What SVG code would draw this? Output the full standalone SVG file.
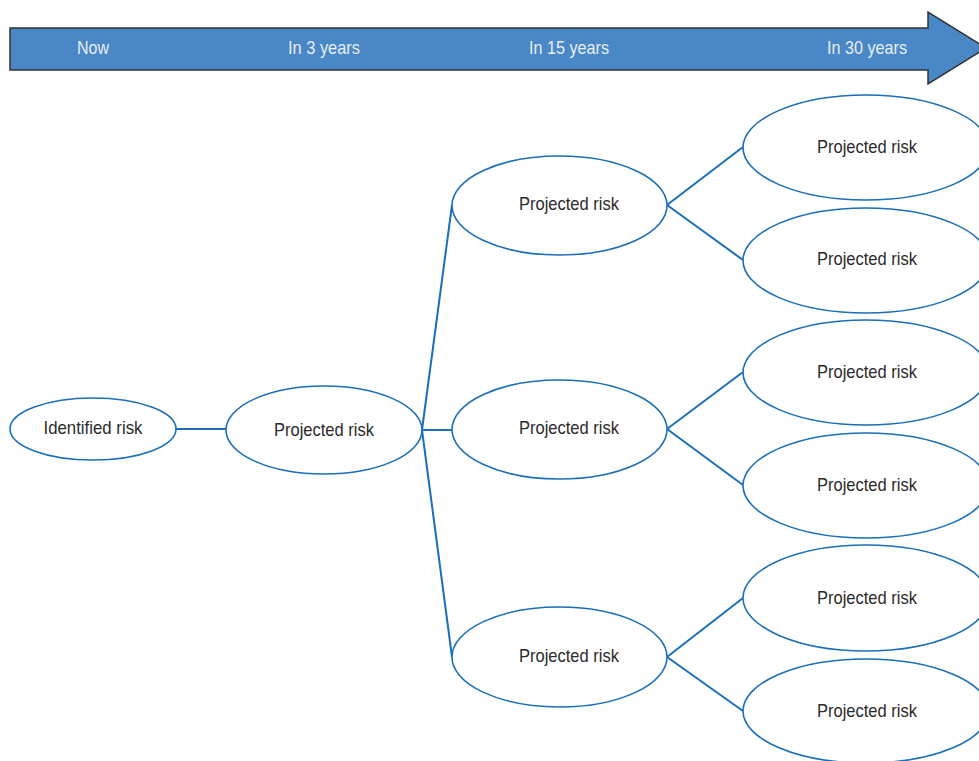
<svg xmlns="http://www.w3.org/2000/svg" width="979" height="761" viewBox="0 0 979 761">
<style>
.t{font-family:"Liberation Sans",Arial,sans-serif;font-size:19px;text-anchor:middle;dominant-baseline:central}
.h{fill:#e6eef8}
.n{fill:#2b2b2b}
.e{fill:#fff;stroke:#1a6fb8;stroke-width:1.6}
.c{stroke:#1a6fb8;stroke-width:2;fill:none}
</style>
<rect width="979" height="761" fill="#fff"/>
<g id="timeline">
<path d="M10,28 H928 V12 L986,48 L928,84 V70 H10 Z" fill="#4a87c6" stroke="#333" stroke-width="1.5"/>
<text class="t h" x="93" y="47" textLength="32" lengthAdjust="spacingAndGlyphs">Now</text>
<text class="t h" x="324" y="47" textLength="72" lengthAdjust="spacingAndGlyphs">In 3 years</text>
<text class="t h" x="569" y="47" textLength="80" lengthAdjust="spacingAndGlyphs">In 15 years</text>
<text class="t h" x="867" y="47" textLength="80" lengthAdjust="spacingAndGlyphs">In 30 years</text>
</g>
<g id="connectors">
<path class="c" d="M176,429 H226"/>
<path class="c" d="M422,430 L452,205 M422,430 H452 M422,430 L452,657"/>
<path class="c" d="M667,205 L743,147 M667,205 L743,260"/>
<path class="c" d="M667,429 L743,372 M667,429 L743,485"/>
<path class="c" d="M667,657 L743,598 M667,657 L743,711"/>
</g>
<g id="identified"><ellipse class="e" cx="93" cy="429" rx="83" ry="31"/><text class="t n" x="93" y="427" textLength="99" lengthAdjust="spacingAndGlyphs">Identified risk</text></g>
<g id="p3"><ellipse class="e" cx="324" cy="430" rx="98" ry="44"/><text class="t n" x="324" y="429" textLength="100" lengthAdjust="spacingAndGlyphs">Projected risk</text></g>
<g id="p15a"><ellipse class="e" cx="559.5" cy="205.5" rx="107.5" ry="49.5"/><text class="t n" x="569" y="203" textLength="100" lengthAdjust="spacingAndGlyphs">Projected risk</text></g>
<g id="p15b"><ellipse class="e" cx="559.5" cy="429.5" rx="107.5" ry="49.5"/><text class="t n" x="569" y="427" textLength="100" lengthAdjust="spacingAndGlyphs">Projected risk</text></g>
<g id="p15c"><ellipse class="e" cx="559.5" cy="657" rx="107.5" ry="50"/><text class="t n" x="569" y="655" textLength="100" lengthAdjust="spacingAndGlyphs">Projected risk</text></g>
<g id="p30a"><ellipse class="e" cx="866" cy="147.5" rx="123" ry="52.5"/><text class="t n" x="867" y="146" textLength="100" lengthAdjust="spacingAndGlyphs">Projected risk</text></g>
<g id="p30b"><ellipse class="e" cx="866" cy="260.5" rx="123" ry="52.5"/><text class="t n" x="867" y="258" textLength="100" lengthAdjust="spacingAndGlyphs">Projected risk</text></g>
<g id="p30c"><ellipse class="e" cx="866" cy="372.5" rx="123" ry="52.5"/><text class="t n" x="867" y="371" textLength="100" lengthAdjust="spacingAndGlyphs">Projected risk</text></g>
<g id="p30d"><ellipse class="e" cx="866" cy="485.5" rx="123" ry="52.5"/><text class="t n" x="867" y="484" textLength="100" lengthAdjust="spacingAndGlyphs">Projected risk</text></g>
<g id="p30e"><ellipse class="e" cx="866" cy="598" rx="123" ry="53"/><text class="t n" x="867" y="597" textLength="100" lengthAdjust="spacingAndGlyphs">Projected risk</text></g>
<g id="p30f"><ellipse class="e" cx="866" cy="711" rx="123" ry="52"/><text class="t n" x="867" y="710" textLength="100" lengthAdjust="spacingAndGlyphs">Projected risk</text></g>
</svg>
